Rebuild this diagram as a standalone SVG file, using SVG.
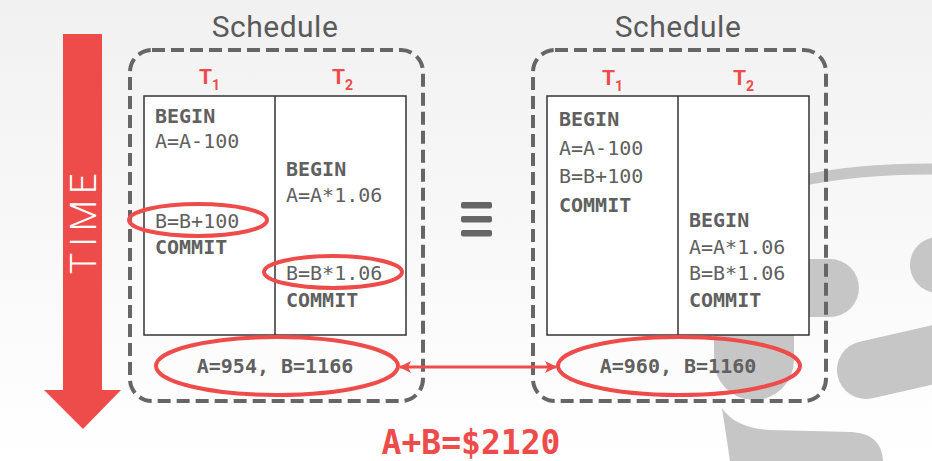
<svg xmlns="http://www.w3.org/2000/svg" width="932" height="461" viewBox="0 0 932 461">
  <defs>
    <linearGradient id="bg" x1="0" y1="0" x2="0" y2="1">
      <stop offset="0" stop-color="#f1f1f1"/>
      <stop offset="1" stop-color="#ffffff"/>
    </linearGradient>
    <marker id="ah" viewBox="0 0 12 12" refX="11" refY="6" markerWidth="12" markerHeight="12" markerUnits="userSpaceOnUse" orient="auto-start-reverse">
      <path d="M0,0 L12,6 L0,12 L3,6 Z" fill="#ee4c4a"/>
    </marker>
    <style>
      .sched { fill: none; stroke: #666; stroke-width: 4; stroke-dasharray: 13 6; }
      .title { font-family: Roboto, "Liberation Sans", sans-serif; font-size: 30px; fill: #5a5a5a; letter-spacing: 0.5px; text-anchor: middle; }
      .tlabel { font-family: Roboto, "Liberation Sans", sans-serif; font-weight: bold; font-size: 21px; fill: #ee4c4a; }
      .tbl { fill: #fff; stroke: #333; stroke-width: 1.5; }
      .div { stroke: #333; stroke-width: 1.5; }
      .code { font-family: "DejaVu Sans Mono", "Liberation Mono", monospace; font-size: 20px; fill: #606060; }
      .kw { font-weight: bold; }
      .ring { fill: none; stroke: #ee4c4a; stroke-width: 4; }
      .logo { fill: none; stroke: #c6c6c6; stroke-linecap: round; }
    </style>
  </defs>

  <rect x="0" y="0" width="932" height="461" fill="url(#bg)"/>

  <!-- background logo decoration -->
  <g id="logo">
    <path class="logo" d="M800,181 Q860,168 940,169" stroke-width="11" stroke-linecap="butt"/>
    <line class="logo" x1="780" y1="288" x2="830" y2="288" stroke-width="58"/>
    <line class="logo" x1="754" y1="300" x2="754" y2="360" stroke-width="80"/>
    <line class="logo" x1="866" y1="370" x2="945" y2="352" stroke-width="58"/>
    <line class="logo" x1="938" y1="265" x2="960" y2="262" stroke-width="56"/>
    <path d="M722,408 Q735,428 770,430 L852,432 Q882,434 883,461 L730,461 Z" fill="#c6c6c6"/>
  </g>

  <!-- TIME arrow -->
  <g id="time">
    <path d="M63,34 L102,34 L102,390 L121,390 L83,429 L44,390 L63,390 Z" fill="#ee4c4a"/>
    <text transform="translate(96,221) rotate(-90)" text-anchor="middle" font-family="Roboto, 'Liberation Sans', sans-serif" font-weight="300" font-size="36" letter-spacing="6" fill="#ffffff">TIME</text>
  </g>

  <!-- Left schedule -->
  <g id="schedule1">
    <text class="title" x="275" y="37">Schedule</text>
    <rect class="sched" x="130" y="50" width="293" height="351" rx="22"/>
    <text class="tlabel" x="199" y="84">T<tspan font-size="14" dy="6">1</tspan></text>
    <text class="tlabel" x="332" y="84">T<tspan font-size="14" dy="6">2</tspan></text>
    <rect class="tbl" x="144" y="96" width="262" height="239"/>
    <line class="div" x1="275" y1="96" x2="275" y2="335"/>
    <text class="code kw" x="155" y="123">BEGIN</text>
    <text class="code" x="155" y="148">A=A-100</text>
    <text class="code" x="155" y="228">B=B+100</text>
    <text class="code kw" x="155" y="254">COMMIT</text>
    <text class="code kw" x="286" y="176">BEGIN</text>
    <text class="code" x="286" y="202">A=A*1.06</text>
    <text class="code" x="286" y="280">B=B*1.06</text>
    <text class="code kw" x="286" y="307">COMMIT</text>
    <ellipse class="ring" cx="198" cy="220" rx="69" ry="16"/>
    <ellipse class="ring" cx="333" cy="272" rx="69" ry="16"/>
    <ellipse class="ring" cx="277" cy="366" rx="121" ry="29"/>
    <text class="code kw" x="275" y="373" text-anchor="middle">A=954, B=1166</text>
  </g>

  <!-- Equivalence -->
  <g id="equiv">
    <rect x="461" y="202" width="31" height="6.5" rx="2" fill="#666"/>
    <rect x="461" y="216" width="31" height="6.5" rx="2" fill="#666"/>
    <rect x="461" y="230" width="31" height="6.5" rx="2" fill="#666"/>
  </g>

  <!-- Right schedule -->
  <g id="schedule2">
    <text class="title" x="678" y="37">Schedule</text>
    <rect class="sched" x="533" y="50" width="293" height="351" rx="22"/>
    <text class="tlabel" x="602" y="85">T<tspan font-size="14" dy="6">1</tspan></text>
    <text class="tlabel" x="733" y="85">T<tspan font-size="14" dy="6">2</tspan></text>
    <rect class="tbl" x="547" y="96" width="262" height="239"/>
    <line class="div" x1="678" y1="96" x2="678" y2="335"/>
    <text class="code kw" x="559" y="126">BEGIN</text>
    <text class="code" x="559" y="155">A=A-100</text>
    <text class="code" x="559" y="183">B=B+100</text>
    <text class="code kw" x="559" y="212">COMMIT</text>
    <text class="code kw" x="689" y="227">BEGIN</text>
    <text class="code" x="689" y="254">A=A*1.06</text>
    <text class="code" x="689" y="280">B=B*1.06</text>
    <text class="code kw" x="689" y="307">COMMIT</text>
    <ellipse class="ring" cx="679" cy="366" rx="121" ry="29"/>
    <text class="code kw" x="678" y="373" text-anchor="middle">A=960, B=1160</text>
  </g>

  <!-- connectors -->
  <g id="connectors">
    <line x1="400" y1="367" x2="556" y2="367" stroke="#ee4c4a" stroke-width="3" marker-start="url(#ah)" marker-end="url(#ah)"/>
  </g>

  <g id="total">
    <text x="471" y="454" text-anchor="middle" font-family="'DejaVu Sans Mono', 'Liberation Mono', monospace" font-weight="bold" font-size="33" fill="#ee4c4a">A+B=$2120</text>
  </g>
</svg>
